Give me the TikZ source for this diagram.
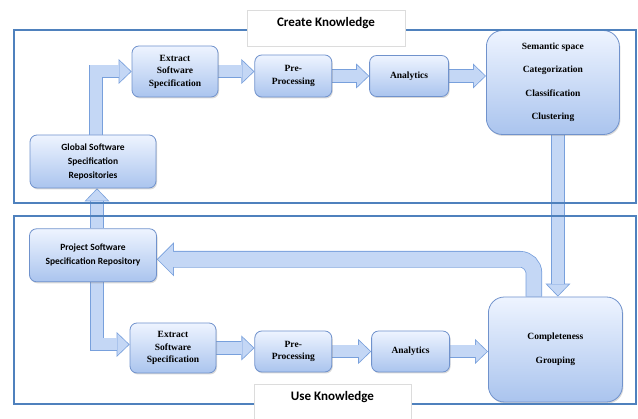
\documentclass[tikz,border=0pt]{standalone}
\usepackage{fontspec}
\setmainfont{Liberation Serif}
\newfontfamily\calibri{Carlito}
\usetikzlibrary{shapes, arrows.meta, calc, positioning, shadows, backgrounds}
\definecolor{frameblue}{RGB}{79,129,189}
\definecolor{boxedge}{RGB}{112,146,204}
\definecolor{boxtop}{RGB}{238,244,255}
\definecolor{boxbot}{RGB}{170,196,238}
\definecolor{arrfill}{RGB}{196,215,245}
\definecolor{arredge}{RGB}{120,160,220}
\definecolor{taggray}{RGB}{220,220,220}
\tikzstyle{block} = [rectangle, draw=boxedge, line width=0.8pt, top color=boxtop, bottom color=boxbot, rounded corners=7pt, align=center, font=\bfseries\fontsize{9.5}{12.5}\selectfont, drop shadow={shadow xshift=1pt, shadow yshift=-1.5pt, opacity=0.3}]
\tikzstyle{bigblock} = [block, rounded corners=16pt, minimum width=133pt, minimum height=104pt, font=\bfseries\fontsize{9.5}{23.5}\selectfont]
\tikzstyle{repo} = [block, minimum width=126pt, minimum height=53pt, font=\calibri\bfseries\fontsize{9.5}{14}\selectfont]
\tikzstyle{line} = [draw=arredge, line width=13.6pt, line join=miter, -{Triangle[length=13pt, width=25pt, line width=0pt]}, postaction={draw=arrfill, line width=12pt, shorten >=1.15pt, -{Triangle[length=11pt, width=21.2pt, line width=0pt]}}]
\tikzstyle{bigline} = [draw=arredge, line width=16.6pt, rounded corners=14pt, -{Triangle[length=17pt, width=34pt, line width=0pt]}, postaction={draw=arrfill, line width=15pt, shorten >=1.13pt, -{Triangle[length=15pt, width=30pt, line width=0pt]}}]
\tikzstyle{frame} = [draw=frameblue, line width=1.6pt]
\tikzstyle{tag} = [rectangle, draw=taggray, fill=white, anchor=north, minimum width=158pt, inner ysep=6.5pt, text height=10pt, text depth=13pt, font=\calibri\bfseries\fontsize{13}{15}\selectfont]

\begin{document}
\begin{tikzpicture}[x=1pt, y=1pt]
        \useasboundingbox (0,0) rectangle (638,419);

        \node[block, minimum width=86pt, minimum height=51pt] (ext1) at (175,347.5) {Extract\\Software\\Specification};

        \node[block, minimum width=77pt, minimum height=42pt, right=36pt of ext1, yshift=-4.5pt] (pre1) {Pre-\\Processing};

        \node[block, minimum width=79pt, minimum height=41pt, right=37pt of pre1] (ana1) {Analytics};

        \node[bigblock, right=37pt of ana1, yshift=-6.5pt] (sem) {Semantic space\\Categorization\\Classification\\Clustering};

        \node[repo] (glob) at (93,257.5) {Global Software\\Specification\\Repositories};

        \node[repo, minimum width=127pt, below=40pt of glob] (proj) {Project Software\\Specification Repository};

        \node[block, minimum width=86pt, minimum height=50pt] (ext2) at (173,71) {Extract\\Software\\Specification};

        \node[block, minimum width=77pt, minimum height=41pt, right=38pt of ext2, yshift=-3.5pt] (pre2) {Pre-\\Processing};

        \node[block, minimum width=78pt, minimum height=41pt, right=39pt of pre2] (ana2) {Analytics};

        \node[bigblock, minimum width=134pt, minimum height=105pt, right=38pt of ana2, yshift=2pt] (comp) {Completeness\\Grouping};

        \begin{scope}[on background layer]
        \path[line] ([xshift=3pt]glob.north) |- (ext1.west);
        \path[line] (ext1.east) -- (ext1.east -| pre1.west);
        \path[line] (pre1.east) -- (pre1.east -| ana1.west);
        \path[line] (ana1.east) -- (ana1.east -| sem.west);
        \path[line] ([xshift=5pt]sem.south) -- ([xshift=5pt]sem.south |- comp.north);
        \path[line] ([xshift=4pt]proj.north) -- ([xshift=4pt]glob.south);
        \path[line] ([xshift=4pt]proj.south) |- ([yshift=3.5pt]ext2.west);
        \path[line] (ext2.east) -- (ext2.east -| pre2.west);
        \path[line] (pre2.east) -- (pre2.east -| ana2.west);
        \path[line] (ana2.east) -- (ana2.east -| comp.west);
        \path[bigline] ([xshift=-21.5pt]comp.north) |- ([yshift=-4pt]proj.east);
        \end{scope}

        \draw[frame] (14,389) rectangle (636,216);
        \draw[frame] (14,203) rectangle (636,15);

        \node[tag] (create) at (326,409) {Create Knowledge};

        \node[tag, minimum width=157pt] (use) at (332.5,35) {Use Knowledge};
    \end{tikzpicture}
\end{document}
